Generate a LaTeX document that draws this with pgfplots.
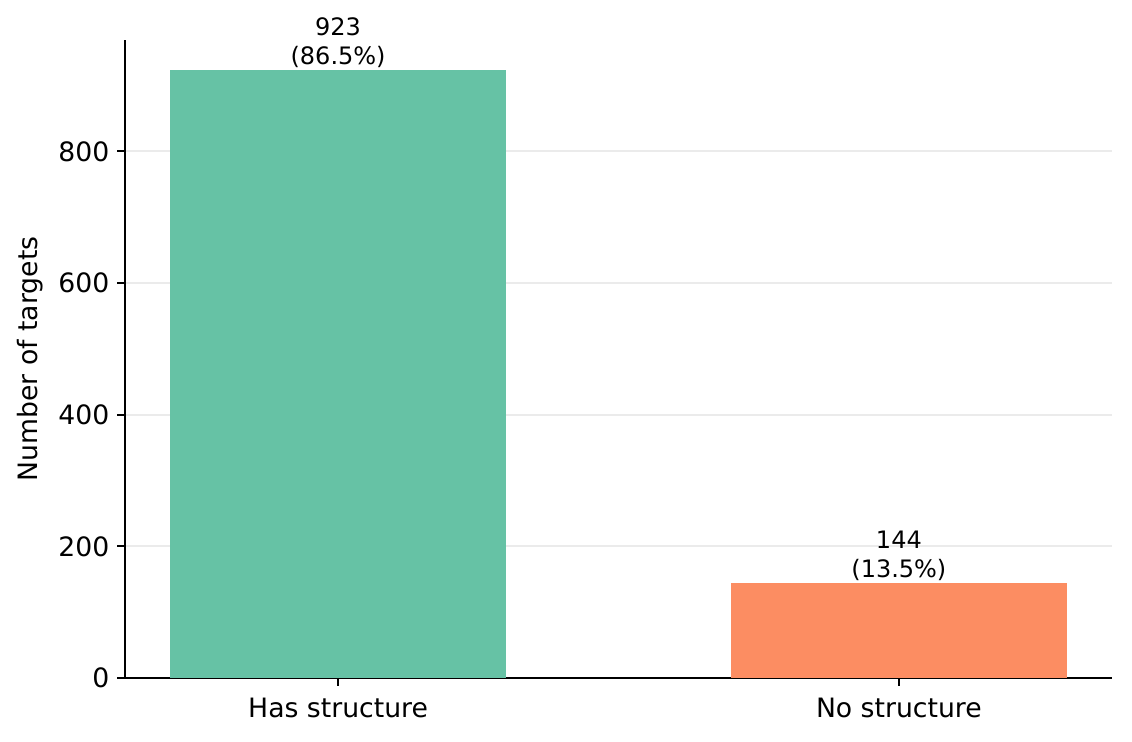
\documentclass[border=0pt]{standalone}
\usepackage{pgfplots}
\pgfplotsset{compat=1.18}
\usepackage{fontspec}
\setmainfont{DejaVu Sans}
\definecolor{cA}{HTML}{66C2A5}
\definecolor{cB}{HTML}{FC8D62}
\definecolor{gridc}{HTML}{EBEBEB}
\begin{document}
\begin{tikzpicture}
\useasboundingbox (-56.25pt,-28.8pt) rectangle (453.15pt,305.1pt);
\begin{axis}[
  at={(0pt,0pt)}, anchor=south west,
  scale only axis, width=444.15pt, height=287.1pt,
  xmin=-0.38, xmax=1.38, ymin=0, ymax=969.15,
  axis lines*=left, axis line style={line width=0.8pt, -},
  xtick={0,1}, xticklabels={Has structure, No structure},
  ytick={0,200,400,600,800},
  tick align=outside, major tick length=3.5pt,
  tick style={line width=0.8pt, black},
  ymajorgrids, grid style={gridc, line width=0.8pt},
  /pgf/number format/assume math mode=true,
  ticklabel style={font=\fontsize{12}{14}\selectfont},
  xticklabel style={yshift=-1.8pt},
  ylabel={Number of targets},
  ylabel style={font=\fontsize{12}{14}\selectfont, at={(axis description cs:-0.0963,0.5)}, anchor=center},
  ybar, bar width=0.6, bar shift=0pt,
  clip=false,
]
\addplot[fill=cA, draw=none] coordinates {(0,923)};
\addplot[fill=cB, draw=none] coordinates {(1,144)};
\node[anchor=south, inner sep=0pt, yshift=1pt, align=center, font=\fontsize{10.8}{13}\selectfont] at (axis cs:0,923) {923\\(86.5\%)};
\node[anchor=south, inner sep=0pt, yshift=1pt, align=center, font=\fontsize{10.8}{13}\selectfont] at (axis cs:1,144) {144\\(13.5\%)};
\end{axis}
\end{tikzpicture}
\end{document}
